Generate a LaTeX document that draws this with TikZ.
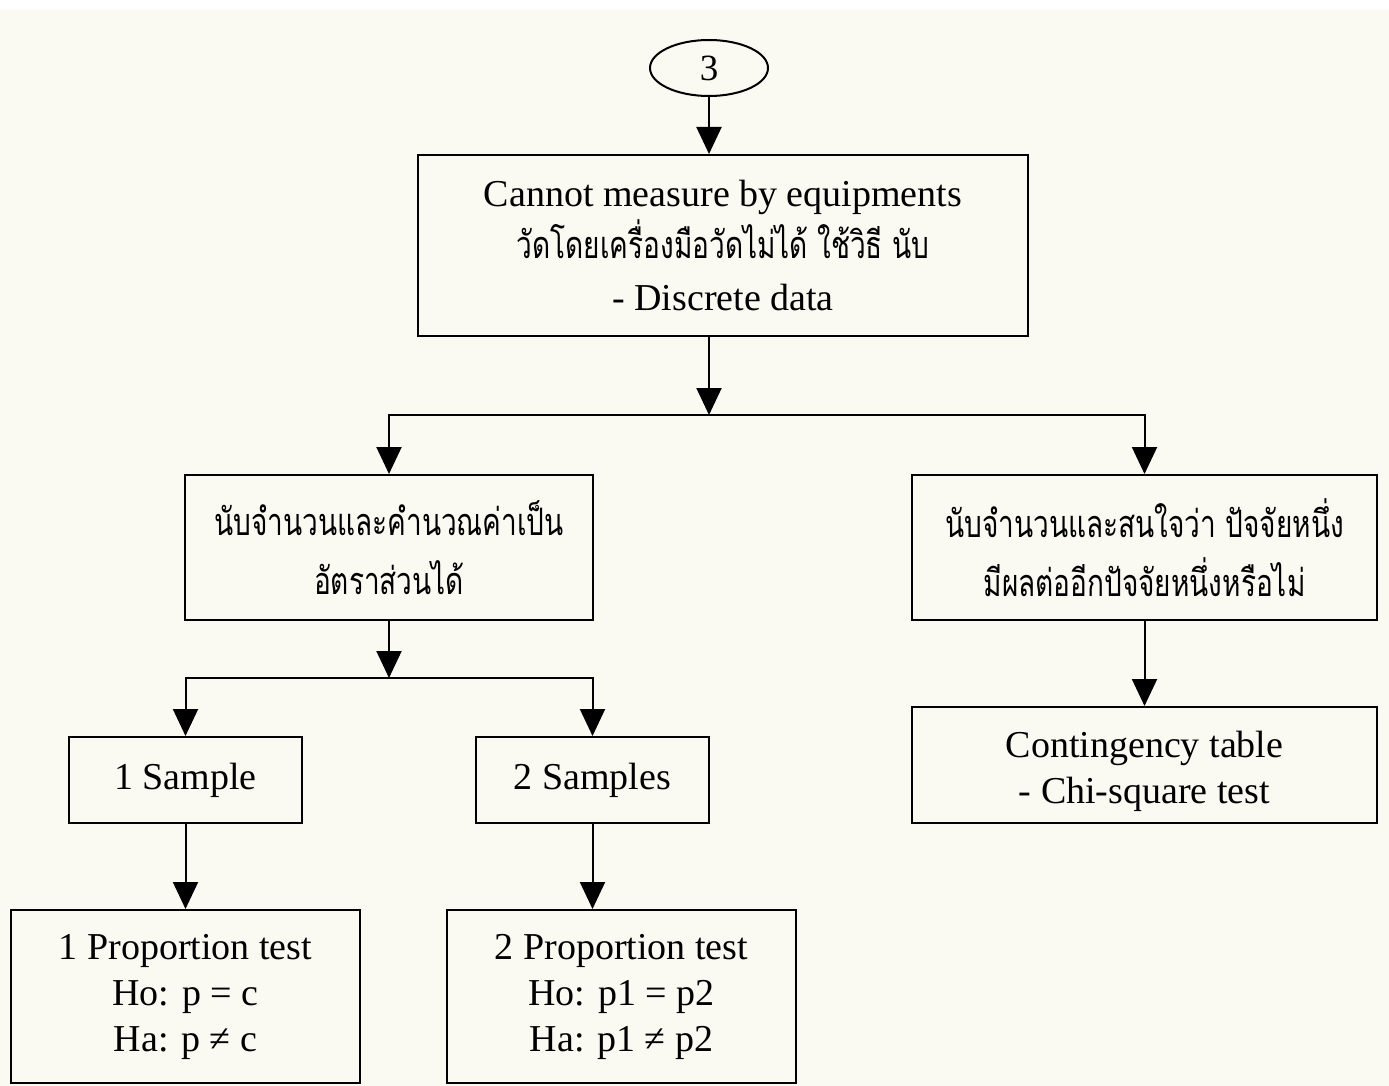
\documentclass[tikz,border=0pt]{standalone}
\usepackage{fontspec}
\usepackage{graphicx}
\setmainfont{Liberation Serif}
\newfontfamily\thaifont[Script=Thai]{Loma}
\usetikzlibrary{arrows.meta,shapes.geometric}

\definecolor{paper}{RGB}{250,250,243}
% Thai lines: narrow, tall lettering
\newcommand{\thline}[1]{\scalebox{1}[1.35]{\thaifont\fontsize{28}{59}\selectfont #1}}

\tikzset{
  box/.style={draw, line width=2pt, inner sep=0pt, align=center,
    font=\fontsize{38}{46}\selectfont},
  arr/.style={line width=2pt, -{Triangle[width=25pt,length=27pt]}}
}

\begin{document}
\begin{tikzpicture}[x=1pt,y=-1pt]
  \useasboundingbox (0,0) rectangle (1389,1086);
  \fill[paper] (0,10) rectangle (1389,1086);

  % entry connector
  \node[draw, ellipse, line width=2pt, minimum width=118pt, minimum height=56pt,
        inner sep=0pt, font=\fontsize{37}{46}\selectfont] (start) at (709,68) {3};

  % boxes
  \node[box, minimum width=610pt, minimum height=181pt, font=\fontsize{38}{52}\selectfont]
    (top) at (723,245.5)
    {Cannot measure by equipments\\ \thline{วัดโดยเครื่องมือวัดไม่ได้ ใช้วิธี นับ}\\ - Discrete data};

  \node[box, minimum width=408pt, minimum height=145pt, font=\fontsize{28}{59}\selectfont]
    (left) at (389,547.5)
    {\thline{นับจำนวนและคำนวณค่าเป็น}\\ \thline{อัตราส่วนได้}};

  \node[box, minimum width=465pt, minimum height=145pt, font=\fontsize{28}{59}\selectfont]
    (right) at (1144.5,547.5)
    {\thline{นับจำนวนและสนใจว่า ปัจจัยหนึ่ง}\\ \thline{มีผลต่ออีกปัจจัยหนึ่งหรือไม่}};

  \node[box, minimum width=233pt, minimum height=86pt] (one) at (185.5,780) {1 Sample};
  \node[box, minimum width=233pt, minimum height=86pt] (two) at (592.5,780) {2 Samples};

  \node[box, minimum width=349pt, minimum height=173pt] (p1) at (185.5,996.5)
    {1 Proportion test\\ Ho: p = c\\ Ha: p ≠ c};
  \node[box, minimum width=349pt, minimum height=173pt] (p2) at (621.5,996.5)
    {2 Proportion test\\ Ho: p1 = p2\\ Ha: p1 ≠ p2};

  \node[box, minimum width=465pt, minimum height=116pt] (cont) at (1144.5,765)
    {\rule{0pt}{40pt}Contingency table\\ - Chi-square test};

  % branch points
  \coordinate (j1) at (709,415);
  \coordinate (j2) at (389,678);

  % connectors
  \draw[arr] (start) -- (start |- top.north);
  \draw[arr] (j1 |- top.south) -- (j1);
  \draw[arr] (j1) -| (left.north);
  \draw[arr] (j1) -| (right.north);
  \draw[arr] (left.south) -- (j2);
  \draw[arr] (j2) -| (one.north);
  \draw[arr] (j2) -| (two.north);
  \draw[arr] (one.south) -- (p1.north);
  \draw[arr] (two.south) -- (two.south |- p2.north);
  \draw[arr] (right.south) -- (cont.north);
\end{tikzpicture}
\end{document}
